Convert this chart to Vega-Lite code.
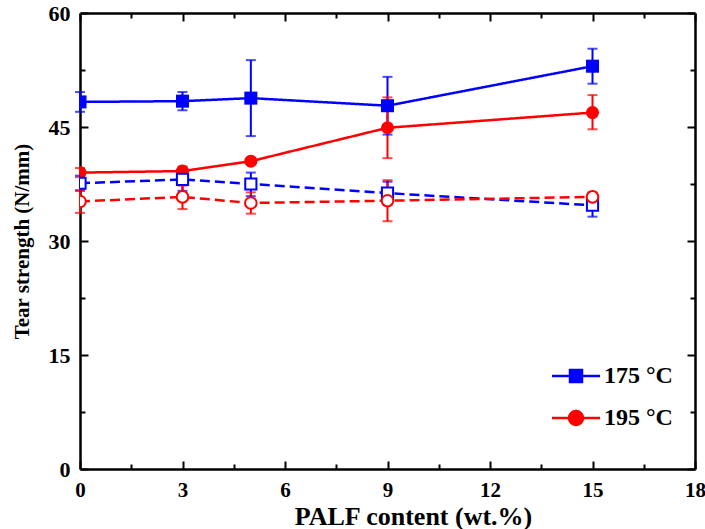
{
  "$schema": "https://vega.github.io/schema/vega-lite/v6.json",
  "width": 615,
  "height": 456,
  "autosize": "none",
  "padding": {"left": 80, "top": 13, "right": 10, "bottom": 60},
  "config": {
    "font": "Liberation Serif",
    "view": {"stroke": null},
    "axis": {
      "grid": false,
      "domainColor": "black",
      "domainWidth": 2.5,
      "tickColor": "black",
      "tickWidth": 2,
      "labelFont": "Liberation Serif",
      "labelFontWeight": "bold",
      "labelFontSize": 22,
      "labelColor": "black",
      "labelFlush": false,
      "labelOverlap": false,
      "titleFont": "Liberation Serif",
      "titleFontWeight": "bold",
      "titleColor": "black"
    }
  },
  "data": {
    "values": [
      {"x": 0, "y": 48.3, "lo": 47.0, "hi": 49.6, "temp": "175", "kind": "solid", "series": "175 solid"},
      {"x": 3, "y": 48.4, "lo": 47.2, "hi": 49.6, "temp": "175", "kind": "solid", "series": "175 solid"},
      {"x": 5, "y": 48.8, "lo": 43.8, "hi": 53.8, "temp": "175", "kind": "solid", "series": "175 solid"},
      {"x": 9, "y": 47.8, "lo": 44.0, "hi": 51.6, "temp": "175", "kind": "solid", "series": "175 solid"},
      {"x": 15, "y": 53.0, "lo": 50.7, "hi": 55.3, "temp": "175", "kind": "solid", "series": "175 solid"},
      {"x": 0, "y": 39.0, "lo": 38.4, "hi": 39.6, "temp": "195", "kind": "solid", "series": "195 solid"},
      {"x": 3, "y": 39.2, "lo": 38.3, "hi": 39.8, "temp": "195", "kind": "solid", "series": "195 solid"},
      {"x": 5, "y": 40.5, "lo": null, "hi": null, "temp": "195", "kind": "solid", "series": "195 solid"},
      {"x": 9, "y": 44.9, "lo": 40.9, "hi": 48.9, "temp": "195", "kind": "solid", "series": "195 solid"},
      {"x": 15, "y": 46.9, "lo": 44.7, "hi": 49.2, "temp": "195", "kind": "solid", "series": "195 solid"},
      {"x": 0, "y": 37.6, "lo": 36.6, "hi": 38.6, "temp": "175", "kind": "dashed", "series": "175 dashed"},
      {"x": 3, "y": 38.1, "lo": 36.6, "hi": 39.5, "temp": "175", "kind": "dashed", "series": "175 dashed"},
      {"x": 5, "y": 37.5, "lo": 35.9, "hi": 39.0, "temp": "175", "kind": "dashed", "series": "175 dashed"},
      {"x": 9, "y": 36.3, "lo": 34.8, "hi": 37.8, "temp": "175", "kind": "dashed", "series": "175 dashed"},
      {"x": 15, "y": 34.7, "lo": 33.2, "hi": 36.2, "temp": "175", "kind": "dashed", "series": "175 dashed"},
      {"x": 0, "y": 35.2, "lo": 33.7, "hi": 36.7, "temp": "195", "kind": "dashed", "series": "195 dashed"},
      {"x": 3, "y": 35.8, "lo": 34.2, "hi": 37.3, "temp": "195", "kind": "dashed", "series": "195 dashed"},
      {"x": 5, "y": 35.0, "lo": 33.6, "hi": 36.4, "temp": "195", "kind": "dashed", "series": "195 dashed"},
      {"x": 9, "y": 35.3, "lo": 32.6, "hi": 38.0, "temp": "195", "kind": "dashed", "series": "195 dashed"},
      {"x": 15, "y": 35.8, "lo": 35.2, "hi": 36.4, "temp": "195", "kind": "dashed", "series": "195 dashed"}
    ]
  },
  "layer": [
    {
      "mark": {"type": "point", "opacity": 0},
      "encoding": {
        "x": {"field": "x", "type": "quantitative",
          "axis": {"orient": "top", "title": null, "labels": false,
            "values": [0, 1.5, 3, 4.5, 6, 7.5, 9, 10.5, 12, 13.5, 15, 16.5, 18],
            "tickSize": {"condition": {"test": "datum.value % 3 === 0", "value": -8}, "value": -5}}},
        "y": {"field": "y", "type": "quantitative",
          "axis": {"orient": "right", "title": null, "labels": false,
            "values": [0, 7.5, 15, 22.5, 30, 37.5, 45, 52.5, 60],
            "tickSize": {"condition": {"test": "datum.value % 15 === 0", "value": -8}, "value": -5}}}
      }
    },
    {
      "mark": {"type": "rule", "strokeWidth": 2},
      "encoding": {
        "x": {"field": "x", "type": "quantitative",
          "scale": {"domain": [0, 18], "nice": false, "zero": false},
          "axis": {"orient": "bottom", "title": "PALF content (wt.%)", "titleFontSize": 26, "titlePadding": 0, "titleX": 333,
            "values": [0, 1.5, 3, 4.5, 6, 7.5, 9, 10.5, 12, 13.5, 15, 16.5, 18],
            "labelExpr": "datum.value % 3 === 0 ? datum.label : ''",
            "labelFontSize": 21,
            "labelPadding": 18,
            "tickSize": {"condition": {"test": "datum.value % 3 === 0", "value": -8}, "value": -5}}},
        "y": {"field": "lo", "type": "quantitative",
          "scale": {"domain": [0, 60], "nice": false, "zero": false},
          "axis": {"orient": "left", "title": "Tear strength (N/mm)", "titleFontSize": 21, "titlePadding": 16,
            "values": [0, 7.5, 15, 22.5, 30, 37.5, 45, 52.5, 60],
            "labelExpr": "datum.value % 15 === 0 ? datum.label : ''",
            "labelPadding": 18,
            "tickSize": {"condition": {"test": "datum.value % 15 === 0", "value": -8}, "value": -5}}},
        "y2": {"field": "hi"},
        "color": {"field": "temp", "type": "nominal",
          "scale": {"domain": ["175", "195"], "range": ["#0000ff", "#ff0000"]},
          "legend": {
            "orient": "none", "legendX": 484, "legendY": 351, "padding": 0,
            "title": null, "symbolSize": 400, "symbolStrokeWidth": 2.5,
            "labelFont": "Liberation Serif", "labelFontSize": 24, "labelFontWeight": "bold", "labelColor": "black",
            "labelOffset": 16, "rowPadding": 18,
            "labelExpr": "datum.label + ' °C'",
            "encode": {"symbols": {"update": {
              "shape": {"signal": "datum.value === '175' ? 'M-2.4,0H2.4M-0.6,-0.6H0.6V0.6H-0.6Z' : 'M-2.4,0H2.4M0.7,0A0.7,0.7,0,1,1,-0.7,0A0.7,0.7,0,1,1,0.7,0Z'"},
              "fill": {"signal": "datum.value === '175' ? '#0000ff' : '#ff0000'"},
              "stroke": {"signal": "datum.value === '175' ? '#0000ff' : '#ff0000'"},
              "strokeWidth": {"value": 2.5},
              "opacity": {"value": 1}
            }}}
          }}
      }
    },
    {
      "mark": {"type": "tick", "orient": "horizontal", "size": 10, "thickness": 2},
      "encoding": {
        "x": {"field": "x", "type": "quantitative", "axis": null},
        "y": {"field": "lo", "type": "quantitative", "axis": null},
        "color": {"field": "temp", "type": "nominal"}
      }
    },
    {
      "mark": {"type": "tick", "orient": "horizontal", "size": 10, "thickness": 2},
      "encoding": {
        "x": {"field": "x", "type": "quantitative", "axis": null},
        "y": {"field": "hi", "type": "quantitative", "axis": null},
        "color": {"field": "temp", "type": "nominal"}
      }
    },
    {
      "mark": {"type": "line", "strokeWidth": 2.5},
      "encoding": {
        "x": {"field": "x", "type": "quantitative", "axis": null},
        "y": {"field": "y", "type": "quantitative", "axis": null},
        "detail": {"field": "series"},
        "strokeDash": {"field": "kind", "type": "nominal",
          "scale": {"domain": ["solid", "dashed"], "range": [[1, 0], [10, 5]]}, "legend": null},
        "color": {"field": "temp", "type": "nominal"}
      }
    },
    {
      "transform": [{"filter": "datum.kind === 'solid' && datum.temp === '175'"}],
      "mark": {"type": "point", "shape": "square", "filled": true, "opacity": 1, "size": 170, "clip": true},
      "encoding": {
        "x": {"field": "x", "type": "quantitative", "axis": null},
        "y": {"field": "y", "type": "quantitative", "axis": null},
        "color": {"field": "temp", "type": "nominal"}
      }
    },
    {
      "transform": [{"filter": "datum.kind === 'solid' && datum.temp === '195'"}],
      "mark": {"type": "point", "shape": "circle", "filled": true, "opacity": 1, "size": 170, "clip": true},
      "encoding": {
        "x": {"field": "x", "type": "quantitative", "axis": null},
        "y": {"field": "y", "type": "quantitative", "axis": null},
        "color": {"field": "temp", "type": "nominal"}
      }
    },
    {
      "transform": [{"filter": "datum.kind === 'dashed' && datum.temp === '175'"}],
      "mark": {"type": "point", "shape": "square", "filled": false, "fill": "white", "fillOpacity": 1, "opacity": 1, "strokeWidth": 2, "size": 125, "clip": true},
      "encoding": {
        "x": {"field": "x", "type": "quantitative", "axis": null},
        "y": {"field": "y", "type": "quantitative", "axis": null},
        "color": {"field": "temp", "type": "nominal"}
      }
    },
    {
      "transform": [{"filter": "datum.kind === 'dashed' && datum.temp === '195'"}],
      "mark": {"type": "point", "shape": "circle", "filled": false, "fill": "white", "fillOpacity": 1, "opacity": 1, "strokeWidth": 2, "size": 135, "clip": true},
      "encoding": {
        "x": {"field": "x", "type": "quantitative", "axis": null},
        "y": {"field": "y", "type": "quantitative", "axis": null},
        "color": {"field": "temp", "type": "nominal"}
      }
    }
  ]
}
